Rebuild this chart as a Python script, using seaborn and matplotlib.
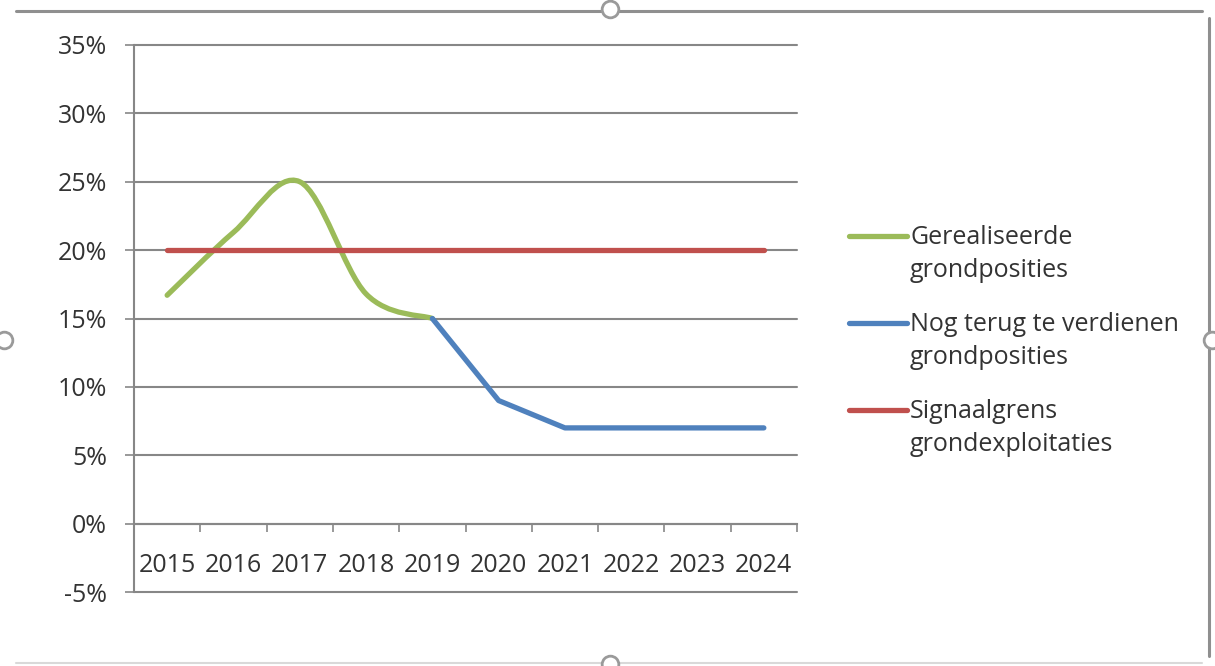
import numpy as np
import pandas as pd
import matplotlib
matplotlib.use("Agg")
import matplotlib.pyplot as plt
import seaborn as sns
from matplotlib.path import Path
from matplotlib.patches import PathPatch
from matplotlib.lines import Line2D

# ---------------- data ----------------
years = ["2015", "2016", "2017", "2018", "2019", "2020", "2021", "2022", "2023", "2024"]
gerealiseerd_years = ["2015", "2016", "2017", "2018", "2019"]
gerealiseerd = [16.7, 21.3, 25.0, 16.8, 15.0]
nog_terug_years = ["2019", "2020", "2021", "2022", "2023", "2024"]
nog_terug = [15.0, 9.0, 7.0, 7.0, 7.0, 7.0]
signaalgrens = [20.0, 20.0, 20.0, 20.0, 20.0, 20.0, 20.0, 20.0, 20.0, 20.0]
y_ticks = [-5, 0, 5, 10, 15, 20, 25, 30, 35]
y_labels = ["-5%", "0%", "5%", "10%", "15%", "20%", "25%", "30%", "35%"]
legend_labels = [
    ["Gerealiseerde", "grondposities"],
    ["Nog terug te verdienen", "grondposities"],
    ["Signaalgrens", "grondexploitaties"],
]

GREEN = "#9BBB59"
BLUE = "#4F81BD"
RED = "#C0504D"
GRID = "#878787"
TXT = "#333333"
LW = 3.8

sns.set_theme(style="white")
plt.rcParams["font.family"] = ["Open Sans", "DejaVu Sans"]

W, H = 1215, 666
fig = plt.figure(figsize=(W / 100, H / 100), dpi=100)
fig.patch.set_facecolor("white")

def fx(px):
    return px / W

def fy(py):
    return 1 - py / H

ax = fig.add_axes([fx(134), fy(592), fx(797) - fx(134), fy(45) - fy(592)])
ax.set_facecolor("white")

pos = {y: i for i, y in enumerate(years)}

# green smoothed line (Excel-style bezier smoothing through data points)
gx = np.array([pos[y] for y in gerealiseerd_years], dtype=float)
gy = np.array(gerealiseerd, dtype=float)
P = np.column_stack([gx, gy])
n = len(P)
verts = [P[0]]
codes = [Path.MOVETO]
for i in range(n - 1):
    prev = P[i - 1] if i > 0 else P[i]
    nxt = P[i + 2] if i + 2 < n else P[i + 1]
    c1 = P[i] + (P[i + 1] - prev) / 6.0
    c2 = P[i + 1] - (nxt - P[i]) / 6.0
    verts += [c1, c2, P[i + 1]]
    codes += [Path.CURVE4] * 3
ax.add_patch(PathPatch(Path(verts, codes), fill=False, edgecolor=GREEN, lw=LW,
                       capstyle="round", joinstyle="round", zorder=3))

df_blue = pd.DataFrame({"x": [pos[y] for y in nog_terug_years], "v": nog_terug})
df_red = pd.DataFrame({"x": [pos[y] for y in years], "v": signaalgrens})
sns.lineplot(data=df_blue, x="x", y="v", ax=ax, color=BLUE, lw=LW, zorder=4,
             solid_capstyle="round", solid_joinstyle="round", legend=False)
sns.lineplot(data=df_red, x="x", y="v", ax=ax, color=RED, lw=LW, zorder=5,
             solid_capstyle="round", legend=False)

ax.set_xlim(-0.5, len(years) - 0.5)
ax.set_ylim(-5, 35)
ax.set_xlabel("")
ax.set_ylabel("")

# y axis
ax.set_yticks(y_ticks)
ax.set_yticklabels(y_labels)
ax.yaxis.grid(True, color=GRID, lw=1.5)
for gl in ax.yaxis.get_gridlines():
    gl.set_clip_on(False)
ax.tick_params(axis="y", which="major", direction="out", length=6.5, width=1.2,
               color=GRID, pad=13, labelsize=18, labelcolor=TXT, left=True)

# x axis (category axis crossing at 0)
ax.spines["bottom"].set_position(("data", 0))
ax.spines["bottom"].set_color(GRID)
ax.spines["bottom"].set_linewidth(1.5)
ax.spines["left"].set_color(GRID)
ax.spines["left"].set_linewidth(1.5)
ax.spines["top"].set_visible(False)
ax.spines["right"].set_visible(False)
ax.set_xticks(np.arange(-0.5, len(years), 1.0))
ax.set_xticklabels([])
ax.set_xticks(np.arange(len(years)), minor=True)
ax.set_xticklabels(years, minor=True)
ax.tick_params(axis="x", which="major", direction="out", length=6, width=1.2,
               color=GRID, bottom=True)
ax.tick_params(axis="x", which="minor", length=0, pad=21.5, labelsize=18,
               labelcolor=TXT, bottom=True)

# legend (drawn manually to match layout)
line_ys = [236, 323, 410]
colors = [GREEN, BLUE, RED]
for ly, col, labs in zip(line_ys, colors, legend_labels):
    fig.add_artist(Line2D([fx(849), fx(907)], [fy(ly), fy(ly)], color=col, lw=LW,
                          solid_capstyle="round", transform=fig.transFigure))
    fig.text(fx(910), fy(ly + 8), labs[0], fontsize=18, color=TXT,
             ha="left", va="baseline")
    fig.text(fx(910), fy(ly + 41), labs[1], fontsize=18, color=TXT,
             ha="left", va="baseline")

# frame around the chart object
FR = "#8f8f8f"
fig.add_artist(Line2D([fx(16), fx(1202)], [fy(11), fy(11)], color=FR, lw=2.2,
                      transform=fig.transFigure))
fig.add_artist(Line2D([fx(1209), fx(1209)], [fy(18), fy(656)], color=FR, lw=2.2,
                      transform=fig.transFigure))
fig.add_artist(Line2D([fx(16), fx(1202)], [fy(663), fy(663)], color="#d9d9d9", lw=1.5,
                      transform=fig.transFigure))
for hx, hy in [(610, 9), (610, 664), (4, 340), (1212, 340)]:
    fig.add_artist(Line2D([fx(hx)], [fy(hy)], marker="o", markersize=12,
                          markerfacecolor="white", markeredgecolor="#9a9a9a",
                          markeredgewidth=2, transform=fig.transFigure))

fig.savefig("out.png", dpi=100, facecolor="white")
